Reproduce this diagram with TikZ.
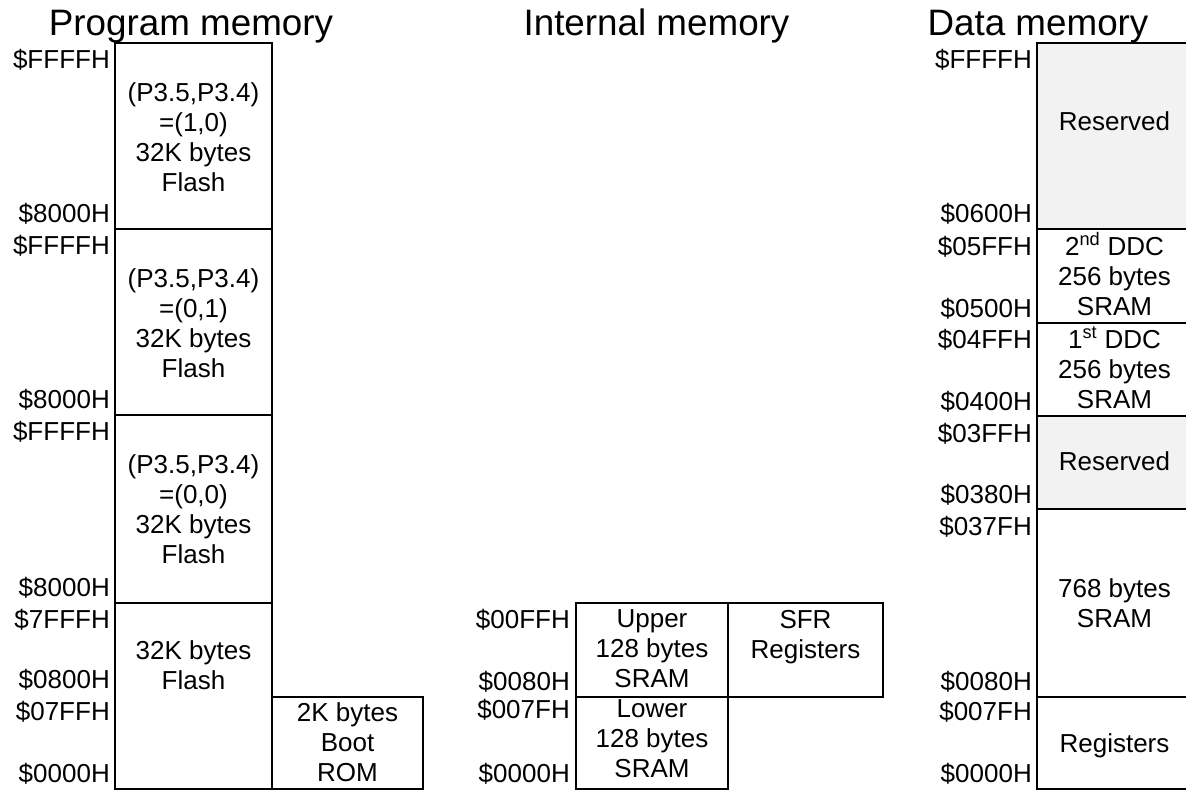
\documentclass[tikz,border=0pt]{standalone}
\usepackage{fontspec}
\setmainfont{Liberation Sans}
\begin{document}
\begin{tikzpicture}[x=1pt,y=-1pt,
  cell/.style={draw=black,line width=1.8pt},
  resv/.style={cell,fill=gray!10},
  addr/.style={anchor=base east,inner sep=0pt,font=\fontsize{26}{30}\selectfont},
  % multi-line texts: the base anchor sits on the last line's baseline
  txt/.style={anchor=base,inner sep=0pt,align=center,font=\fontsize{26}{30}\selectfont},
  ttl/.style={anchor=base,inner sep=0pt,font=\fontsize{36.8}{44}\selectfont}]
\useasboundingbox (0,0) rectangle (1186,790);

% ---------- Program memory ----------
\node[ttl] (tprog) at (191,35) {Program memory};
\draw[cell] (115,43) rectangle (272,229);
\draw[cell] (115,229) rectangle (272,415);
\draw[cell] (115,415) rectangle (272,603);
\draw[cell] (115,603) rectangle (272,789);
\draw[cell] (272,697) rectangle (423,789);

\node[txt] (pm1) at (193.5,191) {(P3.5,P3.4)\\=(1,0)\\32K bytes\\Flash};
\node[txt] (pm2) at (193.5,377) {(P3.5,P3.4)\\=(0,1)\\32K bytes\\Flash};
\node[txt] (pm3) at (193.5,563) {(P3.5,P3.4)\\=(0,0)\\32K bytes\\Flash};
\node[txt] (pm4) at (193.5,689) {32K bytes\\Flash};
\node[txt] (boot) at (347.5,781) {2K bytes\\Boot\\ROM};

\node[addr] (pa1) at (110,68) {\$FFFFH};
\node[addr] (pa2) at (110,222) {\$8000H};
\node[addr] (pa3) at (110,254) {\$FFFFH};
\node[addr] (pa4) at (110,408) {\$8000H};
\node[addr] (pa5) at (110,440) {\$FFFFH};
\node[addr] (pa6) at (110,596) {\$8000H};
\node[addr] (pa7) at (110,628) {\$7FFFH};
\node[addr] (pa8) at (110,688) {\$0800H};
\node[addr] (pa9) at (110,720) {\$07FFH};
\node[addr] (pa10) at (110,782) {\$0000H};

% ---------- Internal memory ----------
\node[ttl] (tint) at (656.5,35) {Internal memory};
\draw[cell] (576,603) rectangle (728,697);
\draw[cell] (728,603) rectangle (883,697);
\draw[cell] (576,697) rectangle (728,789);

\node[txt] (upper) at (652,687) {Upper\\128 bytes\\SRAM};
\node[txt] (sfr) at (805.5,658) {SFR\\Registers};
\node[txt] (lower) at (652,777) {Lower\\128 bytes\\SRAM};

\node[addr] (ia1) at (570,628) {\$00FFH};
\node[addr] (ia2) at (570,690) {\$0080H};
\node[addr] (ia3) at (570,718) {\$007FH};
\node[addr] (ia4) at (570,782) {\$0000H};

% ---------- Data memory ----------
\node[ttl] (tdata) at (1038,35) {Data memory};
\draw[resv] (1037,43) rectangle (1192,229);
\draw[cell] (1037,229) rectangle (1192,323);
\draw[cell] (1037,323) rectangle (1192,416);
\draw[resv] (1037,416) rectangle (1192,509);
\draw[cell] (1037,509) rectangle (1192,697);
\draw[cell] (1037,697) rectangle (1192,789);

\node[txt] (res1) at (1114.5,130) {Reserved};
\node[txt] (ddc2) at (1114.5,315) {2\textsuperscript{nd} DDC\\256 bytes\\SRAM};
\node[txt] (ddc1) at (1114.5,408) {1\textsuperscript{st} DDC\\256 bytes\\SRAM};
\node[txt] (res2) at (1114.5,470) {Reserved};
\node[txt] (sram) at (1114.5,627) {768 bytes\\SRAM};
\node[txt] (regs) at (1114.5,752) {Registers};

\node[addr] (da1) at (1032,68) {\$FFFFH};
\node[addr] (da2) at (1032,222) {\$0600H};
\node[addr] (da3) at (1032,255) {\$05FFH};
\node[addr] (da4) at (1032,317) {\$0500H};
\node[addr] (da5) at (1032,348) {\$04FFH};
\node[addr] (da6) at (1032,410) {\$0400H};
\node[addr] (da7) at (1032,442) {\$03FFH};
\node[addr] (da8) at (1032,503) {\$0380H};
\node[addr] (da9) at (1032,535) {\$037FH};
\node[addr] (da10) at (1032,690) {\$0080H};
\node[addr] (da11) at (1032,720) {\$007FH};
\node[addr] (da12) at (1032,782) {\$0000H};
\end{tikzpicture}
\end{document}
